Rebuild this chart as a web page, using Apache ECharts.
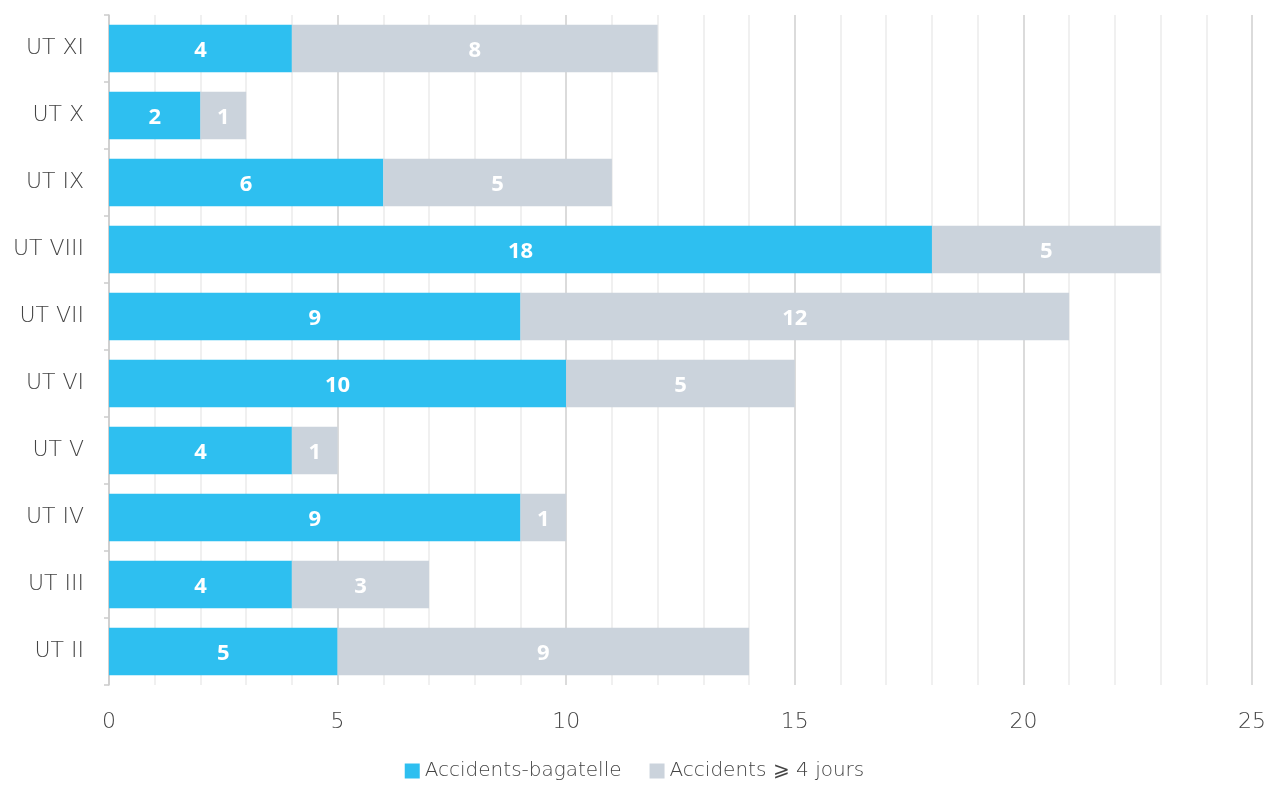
<!DOCTYPE html>
<html><head><meta charset="utf-8">
<script src="https://cdn.jsdelivr.net/npm/echarts@6/dist/echarts.min.js"></script>
<style>html,body{margin:0;padding:0;background:#fff}#c{width:1269px;height:787px}</style>
</head><body><div id="c"></div>
<script>
const categories = ['UT II','UT III','UT IV','UT V','UT VI','UT VII','UT VIII','UT IX','UT X','UT XI'];
const bagatelle = [5,4,9,4,10,9,18,6,2,4];
const quatreJours = [9,3,1,1,5,12,5,5,1,8];
const seriesNames = ['Accidents-bagatelle','Accidents \u2a7e 4 jours'];
const xTicks = [0,5,10,15,20,25];

const font = 'DejaVu Sans';
const chart = echarts.init(document.getElementById('c'));
const lbl = {show:true, position:'inside', color:'#fff', fontFamily:'Open Sans', fontWeight:'bold', fontSize:22, offset:[0,2]};
chart.setOption({
  animation:false,
  grid:{left:109, right:17, top:15, bottom:102},
  legend:{bottom:1, left:'center', itemWidth:15, itemHeight:15, itemGap:28, icon:'rect',
    textStyle:{color:'#444', fontFamily:font, fontWeight:200, fontSize:20, padding:[0,0,0,0]},
    data:seriesNames},
  xAxis:{type:'value', min:xTicks[0], max:xTicks[xTicks.length-1], interval:5,
    axisLine:{show:false}, axisTick:{show:false},
    axisLabel:{color:'#444', fontFamily:font, fontWeight:200, fontSize:22, margin:26},
    splitLine:{show:true, lineStyle:{color:'#cfcfcf', width:1.5}},
    minorTick:{show:false, splitNumber:5},
    minorSplitLine:{show:true, lineStyle:{color:'#ececec', width:1.5}}},
  yAxis:{type:'category', data:categories,
    axisLine:{show:true, lineStyle:{color:'#cccccc', width:1.5}},
    axisTick:{show:true, length:5, lineStyle:{color:'#cccccc', width:1.5}},
    axisLabel:{color:'#444', fontFamily:font, fontWeight:200, fontSize:22, margin:25}},
  series:[
    {name:seriesNames[0], type:'bar', stack:'a', data:bagatelle, barWidth:'71%',
     itemStyle:{color:'#2ebff0'}, label:lbl},
    {name:seriesNames[1], type:'bar', stack:'a', data:quatreJours, barWidth:'71%',
     itemStyle:{color:'#cbd3dc'}, label:lbl}
  ]
});
</script></body></html>
